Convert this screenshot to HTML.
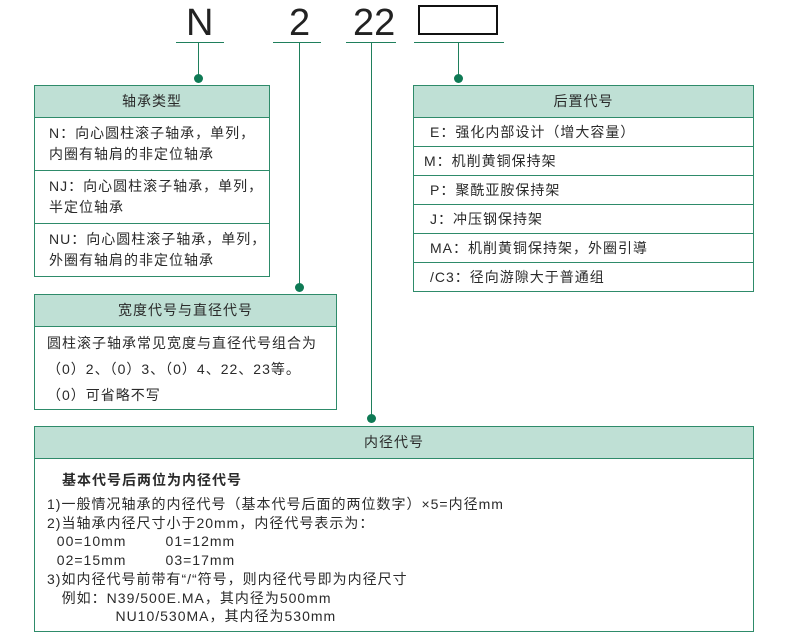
<!DOCTYPE html>
<html><head><meta charset="utf-8"><style>
body{margin:0;background:#fff;}
#c{position:relative;width:790px;height:639px;font-family:"Liberation Sans","Noto Sans CJK SC",sans-serif;color:#2a2a2a;font-size:14px;letter-spacing:1px;}
.a{position:absolute;}
.bx{position:absolute;border:1px solid #2e8b6a;box-sizing:border-box;background:#fff;white-space:nowrap;}
.hd{background:#bfe0d5;border-bottom:1px solid #2e8b6a;text-align:center;box-sizing:border-box;}
.row{border-bottom:1px solid #2e8b6a;box-sizing:border-box;}
.row:last-child{border-bottom:none;}
.ln{position:absolute;background:#1f7f5c;}
.dot{position:absolute;width:9px;height:9px;border-radius:50%;background:#0f7a55;}
.big{position:absolute;font-size:38px;color:#222;line-height:1;letter-spacing:0;}
</style></head><body><div id="c">
<div class="big" style="left:186px;top:4px">N</div>
<div class="big" style="left:289px;top:4px">2</div>
<div class="big" style="left:353px;top:4px">22</div>
<div class="a" style="left:418px;top:5px;width:80px;height:30px;border:2px solid #111;box-sizing:border-box"></div>
<div class="ln" style="left:176px;top:42px;width:48px;height:1px"></div>
<div class="ln" style="left:273px;top:42px;width:48px;height:1px"></div>
<div class="ln" style="left:346px;top:42px;width:50px;height:1px"></div>
<div class="ln" style="left:414px;top:42px;width:90px;height:1px"></div>
<div class="ln" style="left:198px;top:42px;width:1px;height:36px"></div>
<div class="ln" style="left:299px;top:42px;width:1px;height:245px"></div>
<div class="ln" style="left:371px;top:42px;width:1px;height:376px"></div>
<div class="ln" style="left:458px;top:42px;width:1px;height:36px"></div>
<div class="dot" style="left:194px;top:74px"></div>
<div class="dot" style="left:295px;top:283px"></div>
<div class="dot" style="left:367px;top:414px"></div>
<div class="dot" style="left:454px;top:74px"></div>

<div class="bx" style="left:34px;top:85px;width:236px;height:192px">
<div class="hd" style="height:32px;line-height:31px">轴承类型</div>
<div class="row" style="height:53px;padding:5px 0 0 14px;line-height:21px">N：向心圆柱滚子轴承，单列，<br>内圈有轴肩的非定位轴承</div>
<div class="row" style="height:53px;padding:5px 0 0 14px;line-height:21px">NJ：向心圆柱滚子轴承，单列，<br>半定位轴承</div>
<div class="row" style="height:52px;padding:5px 0 0 14px;line-height:21px">NU：向心圆柱滚子轴承，单列，<br>外圈有轴肩的非定位轴承</div>
</div>

<div class="bx" style="left:413px;top:85px;width:341px;height:207px">
<div class="hd" style="height:32px;line-height:31px">后置代号</div>
<div class="row" style="height:29px;line-height:28px;padding-left:16px">E：强化内部设计（增大容量）</div>
<div class="row" style="height:29px;line-height:28px;padding-left:10px">M：机削黄铜保持架</div>
<div class="row" style="height:29px;line-height:28px;padding-left:16px">P：聚酰亚胺保持架</div>
<div class="row" style="height:29px;line-height:28px;padding-left:16px">J：冲压钢保持架</div>
<div class="row" style="height:29px;line-height:28px;padding-left:16px">MA：机削黄铜保持架，外圈引導</div>
<div class="row" style="height:29px;line-height:28px;padding-left:16px">/C3：径向游隙大于普通组</div>
</div>

<div class="bx" style="left:34px;top:294px;width:303px;height:116px">
<div class="hd" style="height:32px;line-height:31px">宽度代号与直径代号</div>
<div style="padding:3px 0 0 12px;line-height:26px">圆柱滚子轴承常见宽度与直径代号组合为<br>（0）2、（0）3、（0）4、22、23等。<br>（0）可省略不写</div>
</div>

<div class="bx" style="left:34px;top:426px;width:720px;height:206px">
<div class="hd" style="height:32px;line-height:31px">内径代号</div>
<div class="a" style="left:27px;top:43px;font-weight:bold">基本代号后两位为内径代号</div>
<div class="a" style="left:12px;top:68px;line-height:18.7px;white-space:pre">1)一般情况轴承的内径代号（基本代号后面的两位数字）×5=内径mm
2)当轴承内径尺寸小于20mm，内径代号表示为：
  00=10mm        01=12mm
  02=15mm        03=17mm
3)如内径代号前带有“/“符号，则内径代号即为内径尺寸
   例如：N39/500E.MA，其内径为500mm
              NU10/530MA，其内径为530mm</div>
</div>
</div></body></html>
